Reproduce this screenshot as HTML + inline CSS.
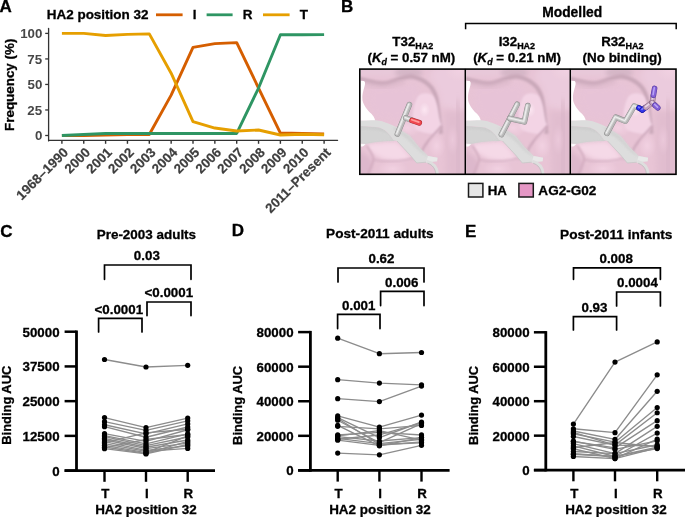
<!DOCTYPE html>
<html><head><meta charset="utf-8"><title>Figure</title>
<style>
html,body{margin:0;padding:0;background:#fff;}
body{width:685px;height:517px;overflow:hidden;}
svg{display:block;will-change:transform;}
text{font-family:"Liberation Sans", sans-serif;font-weight:bold;stroke:currentColor;stroke-width:0.3px;}
</style></head><body>
<svg width="685" height="517" viewBox="0 0 685 517">
<defs>
<clipPath id="clipA"><rect x="49" y="0" width="300" height="140"/></clipPath>
</defs>
<rect width="685" height="517" fill="#fff"/>
<text x="-0.43" y="11.80" font-size="17.00" fill="#000" color="#000" transform="translate(0 11.80) scale(1 1.0) translate(0 -11.80)" >A</text>
<text x="46.72" y="19.40" font-size="13.48" fill="#000" color="#000" transform="translate(0 19.40) scale(1 1.0) translate(0 -19.40)" >HA2 position 32</text>
<line x1="156.00" y1="14.80" x2="182.60" y2="14.80" stroke="#D55E00" stroke-width="2.8" />
<text x="192.73" y="19.40" font-size="13.45" fill="#000" color="#000" transform="translate(0 19.40) scale(1 1.0) translate(0 -19.40)" >I</text>
<line x1="206.60" y1="14.80" x2="232.60" y2="14.80" stroke="#2E9563" stroke-width="2.8" />
<text x="242.73" y="19.40" font-size="13.45" fill="#000" color="#000" transform="translate(0 19.40) scale(1 1.0) translate(0 -19.40)" >R</text>
<line x1="263.00" y1="14.80" x2="289.60" y2="14.80" stroke="#E69F00" stroke-width="2.8" />
<text x="299.87" y="19.40" font-size="13.45" fill="#000" color="#000" transform="translate(0 19.40) scale(1 1.0) translate(0 -19.40)" >T</text>
<line x1="48.60" y1="28.40" x2="48.60" y2="140.90" stroke="#333333" stroke-width="1.3" stroke-linecap="round"/>
<line x1="48.60" y1="140.30" x2="337.60" y2="140.30" stroke="#333333" stroke-width="1.2" stroke-linecap="round"/>
<line x1="45.20" y1="135.50" x2="48.40" y2="135.50" stroke="#333333" stroke-width="1.3" />
<text x="34.95" y="140.20" font-size="13.30" fill="#474747" color="#474747" transform="translate(0 140.20) scale(1 1.0) translate(0 -140.20)" style="stroke-width:0">0</text>
<line x1="45.20" y1="109.97" x2="48.40" y2="109.97" stroke="#333333" stroke-width="1.3" />
<text x="27.37" y="114.67" font-size="13.30" fill="#474747" color="#474747" transform="translate(0 114.67) scale(1 1.0) translate(0 -114.67)" style="stroke-width:0">25</text>
<line x1="45.20" y1="84.45" x2="48.40" y2="84.45" stroke="#333333" stroke-width="1.3" />
<text x="27.57" y="89.15" font-size="13.30" fill="#474747" color="#474747" transform="translate(0 89.15) scale(1 1.0) translate(0 -89.15)" style="stroke-width:0">50</text>
<line x1="45.20" y1="58.93" x2="48.40" y2="58.93" stroke="#333333" stroke-width="1.3" />
<text x="27.37" y="63.63" font-size="13.30" fill="#474747" color="#474747" transform="translate(0 63.63) scale(1 1.0) translate(0 -63.63)" style="stroke-width:0">75</text>
<line x1="45.20" y1="33.40" x2="48.40" y2="33.40" stroke="#333333" stroke-width="1.3" />
<text x="20.19" y="38.10" font-size="13.30" fill="#474747" color="#474747" transform="translate(0 38.10) scale(1 1.0) translate(0 -38.10)" style="stroke-width:0">100</text>
<line x1="61.90" y1="140.50" x2="61.90" y2="143.80" stroke="#333333" stroke-width="1.4" />
<text transform="translate(62.50,146.60) rotate(-45)" font-size="13.4" text-anchor="end" fill="#3E3E3E" color="#3E3E3E" style="stroke-width:0.2px" dy="0.70em">1968–1990</text>
<line x1="83.75" y1="140.50" x2="83.75" y2="143.80" stroke="#333333" stroke-width="1.4" />
<text transform="translate(84.35,146.60) rotate(-45)" font-size="13.4" text-anchor="end" fill="#3E3E3E" color="#3E3E3E" style="stroke-width:0.2px" dy="0.70em">2000</text>
<line x1="105.60" y1="140.50" x2="105.60" y2="143.80" stroke="#333333" stroke-width="1.4" />
<text transform="translate(106.20,146.60) rotate(-45)" font-size="13.4" text-anchor="end" fill="#3E3E3E" color="#3E3E3E" style="stroke-width:0.2px" dy="0.70em">2001</text>
<line x1="127.45" y1="140.50" x2="127.45" y2="143.80" stroke="#333333" stroke-width="1.4" />
<text transform="translate(128.05,146.60) rotate(-45)" font-size="13.4" text-anchor="end" fill="#3E3E3E" color="#3E3E3E" style="stroke-width:0.2px" dy="0.70em">2002</text>
<line x1="149.30" y1="140.50" x2="149.30" y2="143.80" stroke="#333333" stroke-width="1.4" />
<text transform="translate(149.90,146.60) rotate(-45)" font-size="13.4" text-anchor="end" fill="#3E3E3E" color="#3E3E3E" style="stroke-width:0.2px" dy="0.70em">2003</text>
<line x1="171.15" y1="140.50" x2="171.15" y2="143.80" stroke="#333333" stroke-width="1.4" />
<text transform="translate(171.75,146.60) rotate(-45)" font-size="13.4" text-anchor="end" fill="#3E3E3E" color="#3E3E3E" style="stroke-width:0.2px" dy="0.70em">2004</text>
<line x1="193.00" y1="140.50" x2="193.00" y2="143.80" stroke="#333333" stroke-width="1.4" />
<text transform="translate(193.60,146.60) rotate(-45)" font-size="13.4" text-anchor="end" fill="#3E3E3E" color="#3E3E3E" style="stroke-width:0.2px" dy="0.70em">2005</text>
<line x1="214.85" y1="140.50" x2="214.85" y2="143.80" stroke="#333333" stroke-width="1.4" />
<text transform="translate(215.45,146.60) rotate(-45)" font-size="13.4" text-anchor="end" fill="#3E3E3E" color="#3E3E3E" style="stroke-width:0.2px" dy="0.70em">2006</text>
<line x1="236.70" y1="140.50" x2="236.70" y2="143.80" stroke="#333333" stroke-width="1.4" />
<text transform="translate(237.30,146.60) rotate(-45)" font-size="13.4" text-anchor="end" fill="#3E3E3E" color="#3E3E3E" style="stroke-width:0.2px" dy="0.70em">2007</text>
<line x1="258.55" y1="140.50" x2="258.55" y2="143.80" stroke="#333333" stroke-width="1.4" />
<text transform="translate(259.15,146.60) rotate(-45)" font-size="13.4" text-anchor="end" fill="#3E3E3E" color="#3E3E3E" style="stroke-width:0.2px" dy="0.70em">2008</text>
<line x1="280.40" y1="140.50" x2="280.40" y2="143.80" stroke="#333333" stroke-width="1.4" />
<text transform="translate(281.00,146.60) rotate(-45)" font-size="13.4" text-anchor="end" fill="#3E3E3E" color="#3E3E3E" style="stroke-width:0.2px" dy="0.70em">2009</text>
<line x1="302.25" y1="140.50" x2="302.25" y2="143.80" stroke="#333333" stroke-width="1.4" />
<text transform="translate(302.85,146.60) rotate(-45)" font-size="13.4" text-anchor="end" fill="#3E3E3E" color="#3E3E3E" style="stroke-width:0.2px" dy="0.70em">2010</text>
<line x1="324.10" y1="140.50" x2="324.10" y2="143.80" stroke="#333333" stroke-width="1.4" />
<text transform="translate(324.70,146.60) rotate(-45)" font-size="13.4" text-anchor="end" fill="#3E3E3E" color="#3E3E3E" style="stroke-width:0.2px" dy="0.70em">2011–Present</text>
<text transform="translate(14.0,84.8) rotate(-90)" font-size="13.4" text-anchor="middle" fill="#000">Frequency (%)</text>
<g clip-path="url(#clipA)">
<polyline points="61.90,135.50 83.75,135.50 105.60,134.99 127.45,134.48 149.30,134.48 171.15,95.17 193.00,47.39 214.85,43.61 236.70,42.59 258.55,88.02 280.40,133.05 302.25,133.46 324.10,133.97" fill="none" stroke="#D55E00" stroke-width="2.9" stroke-linejoin="round" />
<polyline points="61.90,135.50 83.75,134.48 105.60,133.46 127.45,133.46 149.30,133.46 171.15,133.46 193.00,133.46 214.85,133.46 236.70,133.46 258.55,88.02 280.40,34.73 302.25,34.73 324.10,34.63" fill="none" stroke="#2E9563" stroke-width="2.9" stroke-linejoin="round" />
<polyline points="61.90,33.40 83.75,33.40 105.60,35.44 127.45,34.42 149.30,33.91 171.15,73.22 193.00,121.61 214.85,128.05 236.70,131.01 258.55,129.99 280.40,134.99 302.25,134.27 324.10,134.68" fill="none" stroke="#E69F00" stroke-width="2.9" stroke-linejoin="round" />
</g>
<text x="340.89" y="12.00" font-size="17.00" fill="#000" color="#000" transform="translate(0 12.00) scale(1 1.0) translate(0 -12.00)" >B</text>
<text x="542.20" y="17.10" font-size="13.84" fill="#000" color="#000" transform="translate(0 17.10) scale(1 1.0) translate(0 -17.10)" >Modelled</text>
<path d="M465.6,29.2 V23.6 H676.2 V29.2" fill="none" stroke="#000" stroke-width="1.5"/>
<text x="392.37" y="45.80" font-size="13.3" transform="translate(0 45.80) scale(1 1.0) translate(0 -45.80)">T32<tspan font-size="9" dy="2.9">HA2</tspan></text>
<text x="498.64" y="45.80" font-size="13.3" transform="translate(0 45.80) scale(1 1.0) translate(0 -45.80)">I32<tspan font-size="9" dy="2.9">HA2</tspan></text>
<text x="601.14" y="45.80" font-size="13.3" transform="translate(0 45.80) scale(1 1.0) translate(0 -45.80)">R32<tspan font-size="9" dy="2.9">HA2</tspan></text>
<text x="367.44" y="61.60" font-size="13.3" transform="translate(0 61.60) scale(1 1.0) translate(0 -61.60)">(<tspan font-style="italic">K</tspan><tspan font-style="italic" font-size="8.8" dy="3.0">d</tspan><tspan dy="-3.0"> = 0.57 nM)</tspan></text>
<text x="473.13" y="61.60" font-size="13.3" transform="translate(0 61.60) scale(1 1.0) translate(0 -61.60)">(<tspan font-style="italic">K</tspan><tspan font-style="italic" font-size="8.8" dy="3.0">d</tspan><tspan dy="-3.0"> = 0.21 nM)</tspan></text>
<text x="582.53" y="61.60" font-size="13.44" fill="#000" color="#000" transform="translate(0 61.60) scale(1 1.0) translate(0 -61.60)" >(No binding)</text>
<defs>
<filter id="bl1" x="-30%" y="-30%" width="160%" height="160%"><feGaussianBlur stdDeviation="1"/></filter>
<filter id="bl2" x="-30%" y="-30%" width="160%" height="160%"><feGaussianBlur stdDeviation="2"/></filter>
<filter id="bl3" x="-30%" y="-30%" width="160%" height="160%"><feGaussianBlur stdDeviation="3"/></filter>
<filter id="bl5" x="-40%" y="-40%" width="180%" height="180%"><feGaussianBlur stdDeviation="5"/></filter>
<filter id="pinkfx" x="-10%" y="-10%" width="120%" height="120%"><feColorMatrix type="saturate" values="0.85"/><feColorMatrix type="matrix" values="1 0 0 0 0.02  0 1 0 0 0.005  0 0 0.99 0 0  0 0 0 1 0"/></filter>
<radialGradient id="hl" cx="0.5" cy="0.5" r="0.5"><stop offset="0" stop-color="#FBE6F6"/><stop offset="0.55" stop-color="#F2D0E7"/><stop offset="1" stop-color="#F2D0E7" stop-opacity="0"/></radialGradient>
<radialGradient id="hl2" cx="0.5" cy="0.5" r="0.5"><stop offset="0" stop-color="#F1CDE4"/><stop offset="1" stop-color="#F1CDE4" stop-opacity="0"/></radialGradient>
<linearGradient id="rib" x1="0" y1="0" x2="0" y2="1"><stop offset="0" stop-color="#E4E4E4"/><stop offset="0.5" stop-color="#D6D6D6"/><stop offset="1" stop-color="#CFCFCF"/></linearGradient>
<linearGradient id="strip" x1="0" y1="0" x2="1" y2="1"><stop offset="0" stop-color="#DADADA"/><stop offset="1" stop-color="#E2E2E2"/></linearGradient>
<clipPath id="cpB"><rect x="0" y="0" width="104.4" height="104.2"/></clipPath>
<g id="bgscene">
<g filter="url(#pinkfx)">
<rect x="-5" y="-5" width="114.4" height="114.2" fill="#E5BDD5"/>
<path d="M-5,-5 H40 V6 C30,8 15,6 -5,7 Z" fill="#E6C2DA" filter="url(#bl2)"/>
<ellipse cx="48" cy="3" rx="14" ry="5" fill="#CFADC4" filter="url(#bl2)"/>
<path d="M10,16 C25,18 40,14 55,14 C62,18 60,40 52,50 C40,52 25,50 15,48 C8,40 5,28 10,16 Z" fill="#E4BCD8" filter="url(#bl3)" opacity="0.7"/>
<path d="M74,-4 H108 V40 C100,42 90,40 80,36 C78,24 76,14 68,8 Z" fill="#E9C6DE" filter="url(#bl3)"/>
<ellipse cx="100" cy="0" rx="16" ry="12" fill="url(#hl2)"/>
<path d="M84,40 C92,44 100,42 108,40 V108 H86 C86,80 85,60 84,40 Z" fill="#DDB4CE" filter="url(#bl3)"/>
<path d="M96,30 C97,50 98,80 98,108" fill="none" stroke="#D3AAC5" stroke-width="4" filter="url(#bl3)"/>
<ellipse cx="92" cy="70" rx="6" ry="16" fill="url(#hl2)" opacity="0.6"/>
<path d="M-2,9 C8,11 16,14 23.4,13.6 C30,13 34,10.5 38.4,9.2 C43,7.6 47,6.2 51,6.6 C58,8 64,11 68.4,15.2 C72,18.5 74,22 75.6,28 C77,34 77.6,40 78.4,48 C79,54 79.6,58 80.5,64" fill="none" stroke="#C29CB5" stroke-width="4.2" filter="url(#bl1)"/>
<path d="M-2,12 C8,14 16,17 23,16.5 C30,16 36,13 44,11" fill="none" stroke="#D3ABC5" stroke-width="5" filter="url(#bl2)" opacity="0.7"/>
<path d="M57,27 C60,23 66,22.5 71,25 C75,28 77,36 78,44 C79,50 80,54 81.4,55.2 L75.4,65.2 C70,64 62,63 55,60 C50,52 52,36 57,27 Z" fill="#F2D1E8" filter="url(#bl1)"/>
<ellipse cx="64" cy="40" rx="10" ry="14" fill="url(#hl)"/>
<ellipse cx="47" cy="58" rx="14" ry="10" fill="url(#hl2)"/>
<path d="M81.4,56 C76,62 71,67 67,72 C63,77 60,83 59,90" fill="none" stroke="#C59AB6" stroke-width="2.2" filter="url(#bl1)"/>
<ellipse cx="76" cy="76" rx="9" ry="13" fill="url(#hl2)"/>
<path d="M6,74 C14,73 26,72 36,72 C42,76 46,82 50,88 C44,92 36,92 26,90 C18,88 12,84 8,80 Z" fill="#F5D6EA" filter="url(#bl2)"/>
<path d="M-4,80 C4,84 10,88 12,92 C12,98 10,102 8,108 H-4 Z" fill="#D9AECA" filter="url(#bl2)"/>
<ellipse cx="32" cy="99" rx="16" ry="8" fill="url(#hl2)"/>
<path d="M6,76 C10,82 13,86 13,90 C11,96 9,100 7,106" fill="none" stroke="#CA9EBA" stroke-width="1.8" filter="url(#bl1)"/>
<path d="M13,90 C22,92 34,92 46,90 C52,88 56,88 58,90" fill="none" stroke="#CCA2BE" stroke-width="2" filter="url(#bl1)" opacity="0.7"/>
<rect x="-5" y="-5" width="114.4" height="114.2" fill="#FFDCEC" opacity="0.15"/>
</g>
<path d="M-5,11 L0,11 L3.4,11.1 C4.6,11.8 4.6,13.5 4.2,15.5 C3.6,18.5 2.2,22 1.8,25.6 C1.6,28.5 1.8,31 2.6,33 C3.6,35.5 5.5,38.5 8.5,42 C10.5,43.8 11.8,45 12.8,46.5 C13.8,48 14.3,49.5 14.6,51 L-5,51 Z" fill="#FFFFFF"/>
<path d="M-5,73.4 L5.2,74 C4.4,75.2 3.4,76.2 2,76.6 L-5,76.6 Z" fill="#FFFFFF"/>
<path d="M-5,56.2 L0,56.2 C8,56.6 14,57.2 18.8,57.7 C25,60 29,64 32.8,70.2 L36.4,71.2 C33,71 30,71.1 26.4,71.2 C22,71.5 18.5,71.9 15.2,72.2 C11,72.8 8,73.6 5.1,74 L0,73.4 L-5,73.4 Z" fill="#CECECE"/>
<path d="M-2,60 C8,59 18,60 26,63 C30,66 32,69 33,71 C25,71.3 15,72 5,73.6 L-2,73.4 Z" fill="#D6D6D6" filter="url(#bl1)" opacity="0.8"/>
<path d="M-5,51 L0,51 C6,50.7 11,50.3 15.2,50.4 C20,50.8 23.5,52 26.4,53.2 C30,54.6 33,55.8 35.4,57.2 L49.4,66.2 L58.4,77.4 L67.4,86.2 L76.9,88 L76.4,91.4 L56.1,93.2 L49.4,85.2 L36.4,71.2 L32.8,70.2 C29,64 25,60 18.8,57.7 C14,57.2 8,56.6 0,56.2 L-5,56.2 Z" fill="#DDDDDD"/>
<path d="M35.4,57.2 L49.4,66.2 L58.4,77.4 L67.4,86.2 L69,87.4 C64,86 60,83 55,78 C50,72 44,67 38,64 C36,62 34,60 32,58.8 Z" fill="#D0D0D0" filter="url(#bl1)" opacity="0.8"/>
<path d="M67.4,86.2 L76.9,88 L76.4,91.4 L65.5,92.4 Z" fill="#E8E8E8"/>
<path d="M36.4,71.2 L49.4,85.2 L56.1,93.2 L65.5,92.4" fill="none" stroke="#C8C8C8" stroke-width="0.8"/>
<path d="M66,91.5 C72,93 76.5,97 76.8,105" fill="none" stroke="#DEDEDE" stroke-width="3.2"/>
<path d="M67,93.5 C72,95 75,99 75.2,105" fill="none" stroke="#B8B8B8" stroke-width="0.7"/>
</g>
</defs>
<g transform="translate(360.6,69.8)" clip-path="url(#cpB)">
<use href="#bgscene"/>
<path d="M36.80,64.20 L48.80,34.80" fill="none" stroke="#8A8A8A" stroke-width="5.6" stroke-linecap="round" stroke-linejoin="round"/>
<path d="M36.80,64.20 L48.80,34.80" fill="none" stroke="#B8B8B8" stroke-width="4.8" stroke-linecap="round" stroke-linejoin="round"/>
<path d="M36.80,64.20 L48.80,34.80" fill="none" stroke="#D6D6D6" stroke-width="2.64" stroke-linecap="round" stroke-linejoin="round" transform="translate(-0.6,-0.3)"/>
<path d="M36.80,64.20 L48.80,34.80" fill="none" stroke="#F2F2F2" stroke-width="0.96" stroke-linecap="round" stroke-linejoin="round" transform="translate(-0.7,-0.5)"/>
<path d="M45.20,48.20 L51.50,50.60" fill="none" stroke="#8A8A8A" stroke-width="5.6" stroke-linecap="round" stroke-linejoin="round"/>
<path d="M45.20,48.20 L51.50,50.60" fill="none" stroke="#B8B8B8" stroke-width="4.8" stroke-linecap="round" stroke-linejoin="round"/>
<path d="M45.20,48.20 L51.50,50.60" fill="none" stroke="#D6D6D6" stroke-width="2.64" stroke-linecap="round" stroke-linejoin="round" transform="translate(-0.6,-0.3)"/>
<path d="M45.20,48.20 L51.50,50.60" fill="none" stroke="#F2F2F2" stroke-width="0.96" stroke-linecap="round" stroke-linejoin="round" transform="translate(-0.7,-0.5)"/>
<path d="M51.50,50.60 L58.60,53.00" stroke="#A82830" stroke-width="5.7" stroke-linecap="round"/>
<path d="M51.50,50.60 L58.60,53.00" stroke="#F04850" stroke-width="4.8" stroke-linecap="round"/>
<path d="M51.50,50.60 L58.60,53.00" stroke="#FF9C9C" stroke-width="1.68" stroke-linecap="round" transform="translate(-0.3,-0.7)"/>
</g>
<g transform="translate(466.2,69.8)" clip-path="url(#cpB)">
<use href="#bgscene"/>
<path d="M35.20,64.80 L51.00,34.50" fill="none" stroke="#8A8A8A" stroke-width="5.6" stroke-linecap="round" stroke-linejoin="round"/>
<path d="M35.20,64.80 L51.00,34.50" fill="none" stroke="#B8B8B8" stroke-width="4.8" stroke-linecap="round" stroke-linejoin="round"/>
<path d="M35.20,64.80 L51.00,34.50" fill="none" stroke="#D6D6D6" stroke-width="2.64" stroke-linecap="round" stroke-linejoin="round" transform="translate(-0.6,-0.3)"/>
<path d="M35.20,64.80 L51.00,34.50" fill="none" stroke="#F2F2F2" stroke-width="0.96" stroke-linecap="round" stroke-linejoin="round" transform="translate(-0.7,-0.5)"/>
<path d="M43.50,48.60 L58.20,52.00 L61.60,35.80" fill="none" stroke="#8A8A8A" stroke-width="5.6" stroke-linecap="round" stroke-linejoin="round"/>
<path d="M43.50,48.60 L58.20,52.00 L61.60,35.80" fill="none" stroke="#B8B8B8" stroke-width="4.8" stroke-linecap="round" stroke-linejoin="round"/>
<path d="M43.50,48.60 L58.20,52.00 L61.60,35.80" fill="none" stroke="#D6D6D6" stroke-width="2.64" stroke-linecap="round" stroke-linejoin="round" transform="translate(-0.6,-0.3)"/>
<path d="M43.50,48.60 L58.20,52.00 L61.60,35.80" fill="none" stroke="#F2F2F2" stroke-width="0.96" stroke-linecap="round" stroke-linejoin="round" transform="translate(-0.7,-0.5)"/>
</g>
<g transform="translate(571.2,69.8)" clip-path="url(#cpB)">
<use href="#bgscene"/>
<path d="M35.80,63.60 L44.50,47.40 L54.30,51.40 L63.00,36.30 L67.70,38.10" fill="none" stroke="#8A8A8A" stroke-width="5.6" stroke-linecap="round" stroke-linejoin="round"/>
<path d="M35.80,63.60 L44.50,47.40 L54.30,51.40 L63.00,36.30 L67.70,38.10" fill="none" stroke="#B8B8B8" stroke-width="4.8" stroke-linecap="round" stroke-linejoin="round"/>
<path d="M35.80,63.60 L44.50,47.40 L54.30,51.40 L63.00,36.30 L67.70,38.10" fill="none" stroke="#D6D6D6" stroke-width="2.64" stroke-linecap="round" stroke-linejoin="round" transform="translate(-0.6,-0.3)"/>
<path d="M35.80,63.60 L44.50,47.40 L54.30,51.40 L63.00,36.30 L67.70,38.10" fill="none" stroke="#F2F2F2" stroke-width="0.96" stroke-linecap="round" stroke-linejoin="round" transform="translate(-0.7,-0.5)"/>
<path d="M67.70,38.10 L71.00,40.20" stroke="#12129A" stroke-width="5.5" stroke-linecap="round"/>
<path d="M67.70,38.10 L71.00,40.20" stroke="#2A2AF0" stroke-width="4.6" stroke-linecap="round"/>
<path d="M67.70,38.10 L71.00,40.20" stroke="#7A7AFF" stroke-width="1.61" stroke-linecap="round" transform="translate(-0.3,-0.7)"/>
<path d="M71.00,40.20 L74.70,37.50" stroke="#16169A" stroke-width="5.5" stroke-linecap="round"/>
<path d="M71.00,40.20 L74.70,37.50" stroke="#3434E8" stroke-width="4.6" stroke-linecap="round"/>
<path d="M71.00,40.20 L74.70,37.50" stroke="#8080FF" stroke-width="1.61" stroke-linecap="round" transform="translate(-0.3,-0.7)"/>
<path d="M74.70,37.50 L81.00,32.80" stroke="#86667F" stroke-width="5.5" stroke-linecap="round"/>
<path d="M74.70,37.50 L81.00,32.80" stroke="#C4A2BE" stroke-width="4.6" stroke-linecap="round"/>
<path d="M74.70,37.50 L81.00,32.80" stroke="#E8D6E4" stroke-width="1.61" stroke-linecap="round" transform="translate(-0.3,-0.7)"/>
<path d="M81.00,32.80 L82.20,25.50" stroke="#86667F" stroke-width="5.5" stroke-linecap="round"/>
<path d="M81.00,32.80 L82.20,25.50" stroke="#C4A2BE" stroke-width="4.6" stroke-linecap="round"/>
<path d="M81.00,32.80 L82.20,25.50" stroke="#E8D6E4" stroke-width="1.61" stroke-linecap="round" transform="translate(-0.3,-0.7)"/>
<path d="M82.20,25.50 L83.40,18.60" stroke="#4E3498" stroke-width="5.5" stroke-linecap="round"/>
<path d="M82.20,25.50 L83.40,18.60" stroke="#8460D6" stroke-width="4.6" stroke-linecap="round"/>
<path d="M82.20,25.50 L83.40,18.60" stroke="#B8A2F4" stroke-width="1.61" stroke-linecap="round" transform="translate(-0.3,-0.7)"/>
<path d="M81.00,32.80 L83.80,35.40" stroke="#86667F" stroke-width="5.5" stroke-linecap="round"/>
<path d="M81.00,32.80 L83.80,35.40" stroke="#C4A2BE" stroke-width="4.6" stroke-linecap="round"/>
<path d="M81.00,32.80 L83.80,35.40" stroke="#E8D6E4" stroke-width="1.61" stroke-linecap="round" transform="translate(-0.3,-0.7)"/>
<path d="M83.80,35.40 L86.60,38.00" stroke="#4E3498" stroke-width="5.5" stroke-linecap="round"/>
<path d="M83.80,35.40 L86.60,38.00" stroke="#8460D6" stroke-width="4.6" stroke-linecap="round"/>
<path d="M83.80,35.40 L86.60,38.00" stroke="#B8A2F4" stroke-width="1.61" stroke-linecap="round" transform="translate(-0.3,-0.7)"/>
</g>
<rect x="359.8" y="69.1" width="316.2" height="105.2" fill="none" stroke="#000" stroke-width="1.6"/>
<line x1="465.3" y1="68.9" x2="465.3" y2="174.3" stroke="#000" stroke-width="1.5"/>
<line x1="570.3" y1="68.9" x2="570.3" y2="174.3" stroke="#000" stroke-width="1.5"/>
<rect x="468.5" y="183.4" width="14.4" height="13.6" fill="#E6E6E6" stroke="#1a1a1a" stroke-width="1.5"/>
<text x="487.73" y="194.60" font-size="13.33" fill="#000" color="#000" transform="translate(0 194.60) scale(1 1.0) translate(0 -194.60)" >HA</text>
<rect x="518.9" y="183.4" width="14.4" height="13.6" fill="#E597C5" stroke="#1a1a1a" stroke-width="1.5"/>
<text x="538.36" y="194.60" font-size="13.57" fill="#000" color="#000" transform="translate(0 194.60) scale(1 1.0) translate(0 -194.60)" >AG2-G02</text>
<text x="0.22" y="236.60" font-size="17.00" fill="#000" color="#000" transform="translate(0 236.60) scale(1 1.0) translate(0 -236.60)" >C</text>
<text x="96.73" y="239.40" font-size="13.45" fill="#000" color="#000" transform="translate(0 239.40) scale(1 1.0) translate(0 -239.40)" >Pre-2003 adults</text>
<path d="M104.50,279.30 V265.00 H191.00 V279.30" fill="none" stroke="#000" stroke-width="1.7" stroke-linecap="round"/>
<text x="133.87" y="260.40" font-size="13.35" fill="#000" color="#000" transform="translate(0 260.40) scale(1 1.0) translate(0 -260.40)" >0.03</text>
<path d="M147.00,315.60 V302.00 H191.00 V315.60" fill="none" stroke="#000" stroke-width="1.7" stroke-linecap="round"/>
<text x="144.47" y="297.40" font-size="13.35" fill="#000" color="#000" transform="translate(0 297.40) scale(1 1.0) translate(0 -297.40)" >&lt;0.0001</text>
<path d="M98.60,332.00 V318.40 H142.00 V332.00" fill="none" stroke="#000" stroke-width="1.7" stroke-linecap="round"/>
<text x="94.47" y="314.00" font-size="13.35" fill="#000" color="#000" transform="translate(0 314.00) scale(1 1.0) translate(0 -314.00)" >&lt;0.0001</text>
<polyline points="104.50,359.48 146.00,366.98 187.70,365.31" fill="none" stroke="#8C8C8C" stroke-width="1.35" stroke-linejoin="round" />
<polyline points="104.50,417.54 146.00,427.54 187.70,418.10" fill="none" stroke="#8C8C8C" stroke-width="1.35" stroke-linejoin="round" />
<polyline points="104.50,421.71 146.00,430.32 187.70,420.87" fill="none" stroke="#8C8C8C" stroke-width="1.35" stroke-linejoin="round" />
<polyline points="104.50,424.76 146.00,433.93 187.70,423.93" fill="none" stroke="#8C8C8C" stroke-width="1.35" stroke-linejoin="round" />
<polyline points="104.50,426.71 146.00,437.26 187.70,426.99" fill="none" stroke="#8C8C8C" stroke-width="1.35" stroke-linejoin="round" />
<polyline points="104.50,433.65 146.00,441.43 187.70,429.76" fill="none" stroke="#8C8C8C" stroke-width="1.35" stroke-linejoin="round" />
<polyline points="104.50,435.60 146.00,443.93 187.70,433.93" fill="none" stroke="#8C8C8C" stroke-width="1.35" stroke-linejoin="round" />
<polyline points="104.50,436.71 146.00,445.60 187.70,436.99" fill="none" stroke="#8C8C8C" stroke-width="1.35" stroke-linejoin="round" />
<polyline points="104.50,438.38 146.00,447.26 187.70,440.04" fill="none" stroke="#8C8C8C" stroke-width="1.35" stroke-linejoin="round" />
<polyline points="104.50,439.76 146.00,448.65 187.70,443.10" fill="none" stroke="#8C8C8C" stroke-width="1.35" stroke-linejoin="round" />
<polyline points="104.50,441.71 146.00,450.32 187.70,445.88" fill="none" stroke="#8C8C8C" stroke-width="1.35" stroke-linejoin="round" />
<polyline points="104.50,443.65 146.00,451.43 187.70,448.38" fill="none" stroke="#8C8C8C" stroke-width="1.35" stroke-linejoin="round" />
<polyline points="104.50,445.32 146.00,452.54 187.70,435.88" fill="none" stroke="#8C8C8C" stroke-width="1.35" stroke-linejoin="round" />
<polyline points="104.50,446.99 146.00,453.38 187.70,441.43" fill="none" stroke="#8C8C8C" stroke-width="1.35" stroke-linejoin="round" />
<polyline points="104.50,448.65 146.00,453.93 187.70,444.49" fill="none" stroke="#8C8C8C" stroke-width="1.35" stroke-linejoin="round" />
<polyline points="104.50,447.54 146.00,439.49 187.70,434.49" fill="none" stroke="#8C8C8C" stroke-width="1.35" stroke-linejoin="round" />
<polyline points="104.50,442.54 146.00,432.82 187.70,429.21" fill="none" stroke="#8C8C8C" stroke-width="1.35" stroke-linejoin="round" />
<circle cx="104.50" cy="359.48" r="2.6" fill="#000"/>
<circle cx="146.00" cy="366.98" r="2.6" fill="#000"/>
<circle cx="187.70" cy="365.31" r="2.6" fill="#000"/>
<circle cx="104.50" cy="417.54" r="2.6" fill="#000"/>
<circle cx="146.00" cy="427.54" r="2.6" fill="#000"/>
<circle cx="187.70" cy="418.10" r="2.6" fill="#000"/>
<circle cx="104.50" cy="421.71" r="2.6" fill="#000"/>
<circle cx="146.00" cy="430.32" r="2.6" fill="#000"/>
<circle cx="187.70" cy="420.87" r="2.6" fill="#000"/>
<circle cx="104.50" cy="424.76" r="2.6" fill="#000"/>
<circle cx="146.00" cy="433.93" r="2.6" fill="#000"/>
<circle cx="187.70" cy="423.93" r="2.6" fill="#000"/>
<circle cx="104.50" cy="426.71" r="2.6" fill="#000"/>
<circle cx="146.00" cy="437.26" r="2.6" fill="#000"/>
<circle cx="187.70" cy="426.99" r="2.6" fill="#000"/>
<circle cx="104.50" cy="433.65" r="2.6" fill="#000"/>
<circle cx="146.00" cy="441.43" r="2.6" fill="#000"/>
<circle cx="187.70" cy="429.76" r="2.6" fill="#000"/>
<circle cx="104.50" cy="435.60" r="2.6" fill="#000"/>
<circle cx="146.00" cy="443.93" r="2.6" fill="#000"/>
<circle cx="187.70" cy="433.93" r="2.6" fill="#000"/>
<circle cx="104.50" cy="436.71" r="2.6" fill="#000"/>
<circle cx="146.00" cy="445.60" r="2.6" fill="#000"/>
<circle cx="187.70" cy="436.99" r="2.6" fill="#000"/>
<circle cx="104.50" cy="438.38" r="2.6" fill="#000"/>
<circle cx="146.00" cy="447.26" r="2.6" fill="#000"/>
<circle cx="187.70" cy="440.04" r="2.6" fill="#000"/>
<circle cx="104.50" cy="439.76" r="2.6" fill="#000"/>
<circle cx="146.00" cy="448.65" r="2.6" fill="#000"/>
<circle cx="187.70" cy="443.10" r="2.6" fill="#000"/>
<circle cx="104.50" cy="441.71" r="2.6" fill="#000"/>
<circle cx="146.00" cy="450.32" r="2.6" fill="#000"/>
<circle cx="187.70" cy="445.88" r="2.6" fill="#000"/>
<circle cx="104.50" cy="443.65" r="2.6" fill="#000"/>
<circle cx="146.00" cy="451.43" r="2.6" fill="#000"/>
<circle cx="187.70" cy="448.38" r="2.6" fill="#000"/>
<circle cx="104.50" cy="445.32" r="2.6" fill="#000"/>
<circle cx="146.00" cy="452.54" r="2.6" fill="#000"/>
<circle cx="187.70" cy="435.88" r="2.6" fill="#000"/>
<circle cx="104.50" cy="446.99" r="2.6" fill="#000"/>
<circle cx="146.00" cy="453.38" r="2.6" fill="#000"/>
<circle cx="187.70" cy="441.43" r="2.6" fill="#000"/>
<circle cx="104.50" cy="448.65" r="2.6" fill="#000"/>
<circle cx="146.00" cy="453.93" r="2.6" fill="#000"/>
<circle cx="187.70" cy="444.49" r="2.6" fill="#000"/>
<circle cx="104.50" cy="447.54" r="2.6" fill="#000"/>
<circle cx="146.00" cy="439.49" r="2.6" fill="#000"/>
<circle cx="187.70" cy="434.49" r="2.6" fill="#000"/>
<circle cx="104.50" cy="442.54" r="2.6" fill="#000"/>
<circle cx="146.00" cy="432.82" r="2.6" fill="#000"/>
<circle cx="187.70" cy="429.21" r="2.6" fill="#000"/>
<line x1="76.50" y1="330.50" x2="76.50" y2="471.90" stroke="#000" stroke-width="2.8" />
<line x1="64.60" y1="470.60" x2="215.00" y2="470.60" stroke="#000" stroke-width="2.6" />
<line x1="64.60" y1="470.60" x2="76.50" y2="470.60" stroke="#000" stroke-width="2.5" />
<text x="52.15" y="475.50" font-size="13.30" fill="#000" color="#000" transform="translate(0 475.50) scale(1 1.0) translate(0 -475.50)" >0</text>
<line x1="64.60" y1="435.88" x2="76.50" y2="435.88" stroke="#000" stroke-width="2.5" />
<text x="22.56" y="440.77" font-size="13.30" fill="#000" color="#000" transform="translate(0 440.77) scale(1 1.0) translate(0 -440.77)" >12500</text>
<line x1="64.60" y1="401.15" x2="76.50" y2="401.15" stroke="#000" stroke-width="2.5" />
<text x="22.56" y="406.05" font-size="13.30" fill="#000" color="#000" transform="translate(0 406.05) scale(1 1.0) translate(0 -406.05)" >25000</text>
<line x1="64.60" y1="366.43" x2="76.50" y2="366.43" stroke="#000" stroke-width="2.5" />
<text x="22.56" y="371.32" font-size="13.30" fill="#000" color="#000" transform="translate(0 371.32) scale(1 1.0) translate(0 -371.32)" >37500</text>
<line x1="64.60" y1="331.70" x2="76.50" y2="331.70" stroke="#000" stroke-width="2.5" />
<text x="22.56" y="336.60" font-size="13.30" fill="#000" color="#000" transform="translate(0 336.60) scale(1 1.0) translate(0 -336.60)" >50000</text>
<line x1="104.50" y1="470.60" x2="104.50" y2="481.80" stroke="#000" stroke-width="2.4" />
<text x="101.24" y="497.60" font-size="13.30" fill="#000" color="#000" transform="translate(0 497.60) scale(1 1.0) translate(0 -497.60)" >T</text>
<line x1="146.00" y1="470.60" x2="146.00" y2="481.80" stroke="#000" stroke-width="2.4" />
<text x="144.97" y="497.60" font-size="13.30" fill="#000" color="#000" transform="translate(0 497.60) scale(1 1.0) translate(0 -497.60)" >I</text>
<line x1="187.70" y1="470.60" x2="187.70" y2="481.80" stroke="#000" stroke-width="2.4" />
<text x="183.41" y="497.60" font-size="13.30" fill="#000" color="#000" transform="translate(0 497.60) scale(1 1.0) translate(0 -497.60)" >R</text>
<text x="95.13" y="514.00" font-size="13.45" fill="#000" color="#000" transform="translate(0 514.00) scale(1 1.0) translate(0 -514.00)" >HA2 position 32</text>
<text transform="translate(10.90,405.20) rotate(-90)" font-size="12.9" text-anchor="middle">Binding AUC</text>
<text x="231.80" y="236.00" font-size="17.00" fill="#000" color="#000" transform="translate(0 236.00) scale(1 1.0) translate(0 -236.00)" >D</text>
<text x="326.11" y="238.40" font-size="13.62" fill="#000" color="#000" transform="translate(0 238.40) scale(1 1.0) translate(0 -238.40)" >Post-2011 adults</text>
<path d="M338.00,282.00 V268.00 H424.00 V282.00" fill="none" stroke="#000" stroke-width="1.7" stroke-linecap="round"/>
<text x="368.47" y="263.40" font-size="13.35" fill="#000" color="#000" transform="translate(0 263.40) scale(1 1.0) translate(0 -263.40)" >0.62</text>
<path d="M380.60,305.60 V291.40 H424.00 V305.60" fill="none" stroke="#000" stroke-width="1.7" stroke-linecap="round"/>
<text x="385.07" y="287.00" font-size="13.35" fill="#000" color="#000" transform="translate(0 287.00) scale(1 1.0) translate(0 -287.00)" >0.006</text>
<path d="M337.60,328.60 V314.40 H380.00 V328.60" fill="none" stroke="#000" stroke-width="1.7" stroke-linecap="round"/>
<text x="342.07" y="310.40" font-size="13.35" fill="#000" color="#000" transform="translate(0 310.40) scale(1 1.0) translate(0 -310.40)" >0.001</text>
<polyline points="337.70,338.15 379.40,353.71 421.50,352.50" fill="none" stroke="#8C8C8C" stroke-width="1.35" stroke-linejoin="round" />
<polyline points="337.70,379.64 379.40,383.10 421.50,384.83" fill="none" stroke="#8C8C8C" stroke-width="1.35" stroke-linejoin="round" />
<polyline points="337.70,398.66 379.40,401.60 421.50,386.04" fill="none" stroke="#8C8C8C" stroke-width="1.35" stroke-linejoin="round" />
<polyline points="337.70,415.94 379.40,427.18 421.50,415.08" fill="none" stroke="#8C8C8C" stroke-width="1.35" stroke-linejoin="round" />
<polyline points="337.70,417.67 379.40,437.55 421.50,422.00" fill="none" stroke="#8C8C8C" stroke-width="1.35" stroke-linejoin="round" />
<polyline points="337.70,420.27 379.40,442.74 421.50,423.72" fill="none" stroke="#8C8C8C" stroke-width="1.35" stroke-linejoin="round" />
<polyline points="337.70,426.32 379.40,428.91 421.50,425.45" fill="none" stroke="#8C8C8C" stroke-width="1.35" stroke-linejoin="round" />
<polyline points="337.70,434.96 379.40,432.37 421.50,434.96" fill="none" stroke="#8C8C8C" stroke-width="1.35" stroke-linejoin="round" />
<polyline points="337.70,436.69 379.40,441.01 421.50,437.55" fill="none" stroke="#8C8C8C" stroke-width="1.35" stroke-linejoin="round" />
<polyline points="337.70,438.42 379.40,443.60 421.50,439.28" fill="none" stroke="#8C8C8C" stroke-width="1.35" stroke-linejoin="round" />
<polyline points="337.70,440.15 379.40,445.33 421.50,441.88" fill="none" stroke="#8C8C8C" stroke-width="1.35" stroke-linejoin="round" />
<polyline points="337.70,453.11 379.40,454.84 421.50,445.33" fill="none" stroke="#8C8C8C" stroke-width="1.35" stroke-linejoin="round" />
<polyline points="337.70,439.28 379.40,434.96 421.50,422.86" fill="none" stroke="#8C8C8C" stroke-width="1.35" stroke-linejoin="round" />
<polyline points="337.70,418.54 379.40,444.47 421.50,442.74" fill="none" stroke="#8C8C8C" stroke-width="1.35" stroke-linejoin="round" />
<polyline points="337.70,435.82 379.40,430.64 421.50,440.15" fill="none" stroke="#8C8C8C" stroke-width="1.35" stroke-linejoin="round" />
<polyline points="337.70,425.45 379.40,445.85 421.50,437.55" fill="none" stroke="#8C8C8C" stroke-width="1.35" stroke-linejoin="round" />
<circle cx="337.70" cy="338.15" r="2.6" fill="#000"/>
<circle cx="379.40" cy="353.71" r="2.6" fill="#000"/>
<circle cx="421.50" cy="352.50" r="2.6" fill="#000"/>
<circle cx="337.70" cy="379.64" r="2.6" fill="#000"/>
<circle cx="379.40" cy="383.10" r="2.6" fill="#000"/>
<circle cx="421.50" cy="384.83" r="2.6" fill="#000"/>
<circle cx="337.70" cy="398.66" r="2.6" fill="#000"/>
<circle cx="379.40" cy="401.60" r="2.6" fill="#000"/>
<circle cx="421.50" cy="386.04" r="2.6" fill="#000"/>
<circle cx="337.70" cy="415.94" r="2.6" fill="#000"/>
<circle cx="379.40" cy="427.18" r="2.6" fill="#000"/>
<circle cx="421.50" cy="415.08" r="2.6" fill="#000"/>
<circle cx="337.70" cy="417.67" r="2.6" fill="#000"/>
<circle cx="379.40" cy="437.55" r="2.6" fill="#000"/>
<circle cx="421.50" cy="422.00" r="2.6" fill="#000"/>
<circle cx="337.70" cy="420.27" r="2.6" fill="#000"/>
<circle cx="379.40" cy="442.74" r="2.6" fill="#000"/>
<circle cx="421.50" cy="423.72" r="2.6" fill="#000"/>
<circle cx="337.70" cy="426.32" r="2.6" fill="#000"/>
<circle cx="379.40" cy="428.91" r="2.6" fill="#000"/>
<circle cx="421.50" cy="425.45" r="2.6" fill="#000"/>
<circle cx="337.70" cy="434.96" r="2.6" fill="#000"/>
<circle cx="379.40" cy="432.37" r="2.6" fill="#000"/>
<circle cx="421.50" cy="434.96" r="2.6" fill="#000"/>
<circle cx="337.70" cy="436.69" r="2.6" fill="#000"/>
<circle cx="379.40" cy="441.01" r="2.6" fill="#000"/>
<circle cx="421.50" cy="437.55" r="2.6" fill="#000"/>
<circle cx="337.70" cy="438.42" r="2.6" fill="#000"/>
<circle cx="379.40" cy="443.60" r="2.6" fill="#000"/>
<circle cx="421.50" cy="439.28" r="2.6" fill="#000"/>
<circle cx="337.70" cy="440.15" r="2.6" fill="#000"/>
<circle cx="379.40" cy="445.33" r="2.6" fill="#000"/>
<circle cx="421.50" cy="441.88" r="2.6" fill="#000"/>
<circle cx="337.70" cy="453.11" r="2.6" fill="#000"/>
<circle cx="379.40" cy="454.84" r="2.6" fill="#000"/>
<circle cx="421.50" cy="445.33" r="2.6" fill="#000"/>
<circle cx="337.70" cy="439.28" r="2.6" fill="#000"/>
<circle cx="379.40" cy="434.96" r="2.6" fill="#000"/>
<circle cx="421.50" cy="422.86" r="2.6" fill="#000"/>
<circle cx="337.70" cy="418.54" r="2.6" fill="#000"/>
<circle cx="379.40" cy="444.47" r="2.6" fill="#000"/>
<circle cx="421.50" cy="442.74" r="2.6" fill="#000"/>
<circle cx="337.70" cy="435.82" r="2.6" fill="#000"/>
<circle cx="379.40" cy="430.64" r="2.6" fill="#000"/>
<circle cx="421.50" cy="440.15" r="2.6" fill="#000"/>
<circle cx="337.70" cy="425.45" r="2.6" fill="#000"/>
<circle cx="379.40" cy="445.85" r="2.6" fill="#000"/>
<circle cx="421.50" cy="437.55" r="2.6" fill="#000"/>
<line x1="310.40" y1="330.90" x2="310.40" y2="471.70" stroke="#000" stroke-width="2.8" />
<line x1="298.10" y1="470.40" x2="449.60" y2="470.40" stroke="#000" stroke-width="2.6" />
<line x1="298.10" y1="470.40" x2="310.40" y2="470.40" stroke="#000" stroke-width="2.5" />
<text x="286.15" y="475.30" font-size="13.30" fill="#000" color="#000" transform="translate(0 475.30) scale(1 1.0) translate(0 -475.30)" >0</text>
<line x1="298.10" y1="435.82" x2="310.40" y2="435.82" stroke="#000" stroke-width="2.5" />
<text x="256.56" y="440.72" font-size="13.30" fill="#000" color="#000" transform="translate(0 440.72) scale(1 1.0) translate(0 -440.72)" >20000</text>
<line x1="298.10" y1="401.25" x2="310.40" y2="401.25" stroke="#000" stroke-width="2.5" />
<text x="256.56" y="406.15" font-size="13.30" fill="#000" color="#000" transform="translate(0 406.15) scale(1 1.0) translate(0 -406.15)" >40000</text>
<line x1="298.10" y1="366.68" x2="310.40" y2="366.68" stroke="#000" stroke-width="2.5" />
<text x="256.56" y="371.57" font-size="13.30" fill="#000" color="#000" transform="translate(0 371.57) scale(1 1.0) translate(0 -371.57)" >60000</text>
<line x1="298.10" y1="332.10" x2="310.40" y2="332.10" stroke="#000" stroke-width="2.5" />
<text x="256.56" y="337.00" font-size="13.30" fill="#000" color="#000" transform="translate(0 337.00) scale(1 1.0) translate(0 -337.00)" >80000</text>
<line x1="337.70" y1="470.40" x2="337.70" y2="481.60" stroke="#000" stroke-width="2.4" />
<text x="334.44" y="497.60" font-size="13.30" fill="#000" color="#000" transform="translate(0 497.60) scale(1 1.0) translate(0 -497.60)" >T</text>
<line x1="379.40" y1="470.40" x2="379.40" y2="481.60" stroke="#000" stroke-width="2.4" />
<text x="378.37" y="497.60" font-size="13.30" fill="#000" color="#000" transform="translate(0 497.60) scale(1 1.0) translate(0 -497.60)" >I</text>
<line x1="421.50" y1="470.40" x2="421.50" y2="481.60" stroke="#000" stroke-width="2.4" />
<text x="417.21" y="497.60" font-size="13.30" fill="#000" color="#000" transform="translate(0 497.60) scale(1 1.0) translate(0 -497.60)" >R</text>
<text x="329.13" y="513.60" font-size="13.45" fill="#000" color="#000" transform="translate(0 513.60) scale(1 1.0) translate(0 -513.60)" >HA2 position 32</text>
<text transform="translate(242.00,405.40) rotate(-90)" font-size="12.9" text-anchor="middle">Binding AUC</text>
<text x="464.89" y="237.00" font-size="17.00" fill="#000" color="#000" transform="translate(0 237.00) scale(1 1.0) translate(0 -237.00)" >E</text>
<text x="560.11" y="239.40" font-size="13.67" fill="#000" color="#000" transform="translate(0 239.40) scale(1 1.0) translate(0 -239.40)" >Post-2011 infants</text>
<path d="M573.50,279.30 V267.80 H660.40 V279.30" fill="none" stroke="#000" stroke-width="1.7" stroke-linecap="round"/>
<text x="599.47" y="263.40" font-size="13.35" fill="#000" color="#000" transform="translate(0 263.40) scale(1 1.0) translate(0 -263.40)" >0.008</text>
<path d="M616.60,306.00 V292.00 H660.40 V306.00" fill="none" stroke="#000" stroke-width="1.7" stroke-linecap="round"/>
<text x="617.07" y="287.00" font-size="13.35" fill="#000" color="#000" transform="translate(0 287.00) scale(1 1.0) translate(0 -287.00)" >0.0004</text>
<path d="M573.40,330.00 V316.60 H616.60 V330.00" fill="none" stroke="#000" stroke-width="1.7" stroke-linecap="round"/>
<text x="581.47" y="312.00" font-size="13.35" fill="#000" color="#000" transform="translate(0 312.00) scale(1 1.0) translate(0 -312.00)" >0.93</text>
<polyline points="573.40,424.11 615.00,362.10 657.20,341.95" fill="none" stroke="#8C8C8C" stroke-width="1.35" stroke-linejoin="round" />
<polyline points="573.40,428.76 615.00,432.64 657.20,374.85" fill="none" stroke="#8C8C8C" stroke-width="1.35" stroke-linejoin="round" />
<polyline points="573.40,431.00 615.00,439.44 657.20,391.30" fill="none" stroke="#8C8C8C" stroke-width="1.35" stroke-linejoin="round" />
<polyline points="573.40,433.76 615.00,442.20 657.20,407.57" fill="none" stroke="#8C8C8C" stroke-width="1.35" stroke-linejoin="round" />
<polyline points="573.40,436.51 615.00,445.12 657.20,412.74" fill="none" stroke="#8C8C8C" stroke-width="1.35" stroke-linejoin="round" />
<polyline points="573.40,441.51 615.00,447.88 657.20,420.66" fill="none" stroke="#8C8C8C" stroke-width="1.35" stroke-linejoin="round" />
<polyline points="573.40,443.57 615.00,453.65 657.20,426.35" fill="none" stroke="#8C8C8C" stroke-width="1.35" stroke-linejoin="round" />
<polyline points="573.40,445.81 615.00,456.49 657.20,433.07" fill="none" stroke="#8C8C8C" stroke-width="1.35" stroke-linejoin="round" />
<polyline points="573.40,448.74 615.00,458.56 657.20,439.10" fill="none" stroke="#8C8C8C" stroke-width="1.35" stroke-linejoin="round" />
<polyline points="573.40,451.50 615.00,453.65 657.20,444.78" fill="none" stroke="#8C8C8C" stroke-width="1.35" stroke-linejoin="round" />
<polyline points="573.40,454.25 615.00,456.49 657.20,447.19" fill="none" stroke="#8C8C8C" stroke-width="1.35" stroke-linejoin="round" />
<polyline points="573.40,456.49 615.00,458.56 657.20,447.88" fill="none" stroke="#8C8C8C" stroke-width="1.35" stroke-linejoin="round" />
<polyline points="573.40,432.38 615.00,445.12 657.20,445.99" fill="none" stroke="#8C8C8C" stroke-width="1.35" stroke-linejoin="round" />
<polyline points="573.40,441.16 615.00,449.43 657.20,440.82" fill="none" stroke="#8C8C8C" stroke-width="1.35" stroke-linejoin="round" />
<polyline points="573.40,447.71 615.00,442.54 657.20,446.85" fill="none" stroke="#8C8C8C" stroke-width="1.35" stroke-linejoin="round" />
<polyline points="573.40,453.74 615.00,456.32 657.20,448.57" fill="none" stroke="#8C8C8C" stroke-width="1.35" stroke-linejoin="round" />
<circle cx="573.40" cy="424.11" r="2.6" fill="#000"/>
<circle cx="615.00" cy="362.10" r="2.6" fill="#000"/>
<circle cx="657.20" cy="341.95" r="2.6" fill="#000"/>
<circle cx="573.40" cy="428.76" r="2.6" fill="#000"/>
<circle cx="615.00" cy="432.64" r="2.6" fill="#000"/>
<circle cx="657.20" cy="374.85" r="2.6" fill="#000"/>
<circle cx="573.40" cy="431.00" r="2.6" fill="#000"/>
<circle cx="615.00" cy="439.44" r="2.6" fill="#000"/>
<circle cx="657.20" cy="391.30" r="2.6" fill="#000"/>
<circle cx="573.40" cy="433.76" r="2.6" fill="#000"/>
<circle cx="615.00" cy="442.20" r="2.6" fill="#000"/>
<circle cx="657.20" cy="407.57" r="2.6" fill="#000"/>
<circle cx="573.40" cy="436.51" r="2.6" fill="#000"/>
<circle cx="615.00" cy="445.12" r="2.6" fill="#000"/>
<circle cx="657.20" cy="412.74" r="2.6" fill="#000"/>
<circle cx="573.40" cy="441.51" r="2.6" fill="#000"/>
<circle cx="615.00" cy="447.88" r="2.6" fill="#000"/>
<circle cx="657.20" cy="420.66" r="2.6" fill="#000"/>
<circle cx="573.40" cy="443.57" r="2.6" fill="#000"/>
<circle cx="615.00" cy="453.65" r="2.6" fill="#000"/>
<circle cx="657.20" cy="426.35" r="2.6" fill="#000"/>
<circle cx="573.40" cy="445.81" r="2.6" fill="#000"/>
<circle cx="615.00" cy="456.49" r="2.6" fill="#000"/>
<circle cx="657.20" cy="433.07" r="2.6" fill="#000"/>
<circle cx="573.40" cy="448.74" r="2.6" fill="#000"/>
<circle cx="615.00" cy="458.56" r="2.6" fill="#000"/>
<circle cx="657.20" cy="439.10" r="2.6" fill="#000"/>
<circle cx="573.40" cy="451.50" r="2.6" fill="#000"/>
<circle cx="615.00" cy="453.65" r="2.6" fill="#000"/>
<circle cx="657.20" cy="444.78" r="2.6" fill="#000"/>
<circle cx="573.40" cy="454.25" r="2.6" fill="#000"/>
<circle cx="615.00" cy="456.49" r="2.6" fill="#000"/>
<circle cx="657.20" cy="447.19" r="2.6" fill="#000"/>
<circle cx="573.40" cy="456.49" r="2.6" fill="#000"/>
<circle cx="615.00" cy="458.56" r="2.6" fill="#000"/>
<circle cx="657.20" cy="447.88" r="2.6" fill="#000"/>
<circle cx="573.40" cy="432.38" r="2.6" fill="#000"/>
<circle cx="615.00" cy="445.12" r="2.6" fill="#000"/>
<circle cx="657.20" cy="445.99" r="2.6" fill="#000"/>
<circle cx="573.40" cy="441.16" r="2.6" fill="#000"/>
<circle cx="615.00" cy="449.43" r="2.6" fill="#000"/>
<circle cx="657.20" cy="440.82" r="2.6" fill="#000"/>
<circle cx="573.40" cy="447.71" r="2.6" fill="#000"/>
<circle cx="615.00" cy="442.54" r="2.6" fill="#000"/>
<circle cx="657.20" cy="446.85" r="2.6" fill="#000"/>
<circle cx="573.40" cy="453.74" r="2.6" fill="#000"/>
<circle cx="615.00" cy="456.32" r="2.6" fill="#000"/>
<circle cx="657.20" cy="448.57" r="2.6" fill="#000"/>
<line x1="545.80" y1="331.10" x2="545.80" y2="471.40" stroke="#000" stroke-width="2.8" />
<line x1="533.90" y1="470.10" x2="686.00" y2="470.10" stroke="#000" stroke-width="2.6" />
<line x1="533.90" y1="470.10" x2="545.80" y2="470.10" stroke="#000" stroke-width="2.5" />
<text x="522.15" y="475.00" font-size="13.30" fill="#000" color="#000" transform="translate(0 475.00) scale(1 1.0) translate(0 -475.00)" >0</text>
<line x1="533.90" y1="435.65" x2="545.80" y2="435.65" stroke="#000" stroke-width="2.5" />
<text x="492.56" y="440.55" font-size="13.30" fill="#000" color="#000" transform="translate(0 440.55) scale(1 1.0) translate(0 -440.55)" >20000</text>
<line x1="533.90" y1="401.20" x2="545.80" y2="401.20" stroke="#000" stroke-width="2.5" />
<text x="492.56" y="406.10" font-size="13.30" fill="#000" color="#000" transform="translate(0 406.10) scale(1 1.0) translate(0 -406.10)" >40000</text>
<line x1="533.90" y1="366.75" x2="545.80" y2="366.75" stroke="#000" stroke-width="2.5" />
<text x="492.56" y="371.65" font-size="13.30" fill="#000" color="#000" transform="translate(0 371.65) scale(1 1.0) translate(0 -371.65)" >60000</text>
<line x1="533.90" y1="332.30" x2="545.80" y2="332.30" stroke="#000" stroke-width="2.5" />
<text x="492.56" y="337.20" font-size="13.30" fill="#000" color="#000" transform="translate(0 337.20) scale(1 1.0) translate(0 -337.20)" >80000</text>
<line x1="573.40" y1="470.10" x2="573.40" y2="481.30" stroke="#000" stroke-width="2.4" />
<text x="570.14" y="497.60" font-size="13.30" fill="#000" color="#000" transform="translate(0 497.60) scale(1 1.0) translate(0 -497.60)" >T</text>
<line x1="615.00" y1="470.10" x2="615.00" y2="481.30" stroke="#000" stroke-width="2.4" />
<text x="613.97" y="497.60" font-size="13.30" fill="#000" color="#000" transform="translate(0 497.60) scale(1 1.0) translate(0 -497.60)" >I</text>
<line x1="657.20" y1="470.10" x2="657.20" y2="481.30" stroke="#000" stroke-width="2.4" />
<text x="652.91" y="497.60" font-size="13.30" fill="#000" color="#000" transform="translate(0 497.60) scale(1 1.0) translate(0 -497.60)" >R</text>
<text x="565.13" y="513.60" font-size="13.45" fill="#000" color="#000" transform="translate(0 513.60) scale(1 1.0) translate(0 -513.60)" >HA2 position 32</text>
<text transform="translate(478.00,405.40) rotate(-90)" font-size="12.9" text-anchor="middle">Binding AUC</text>
</svg>
</body></html>
